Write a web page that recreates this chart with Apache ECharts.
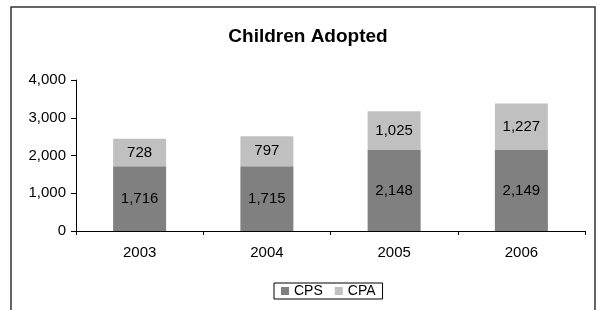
<!DOCTYPE html>
<html>
<head>
<meta charset="utf-8">
<script src="https://cdn.jsdelivr.net/npm/echarts@6/dist/echarts.min.js"></script>
<style>
  html, body { margin: 0; padding: 0; background: #fff; }
  #chart { width: 597px; height: 310px; }
</style>
</head>
<body>
<div id="chart"></div>
<script>
const years = ['2003', '2004', '2005', '2006']
const cps = [1716, 1715, 2148, 2149]
const cpa = [728, 797, 1025, 1227]
const yTicks = [0, 1000, 2000, 3000, 4000]

const font = '"Liberation Sans", Arial, sans-serif'
const chart = echarts.init(document.getElementById('chart'))

const fmt = v => Number(v).toLocaleString('en-US')

const option = {
  animation: false,
  textStyle: { fontFamily: font },
  title: {
    text: 'Children Adopted',
    left: 303,
    top: 22,
    textAlign: 'center',
    textStyle: { fontSize: 19, fontWeight: 'bold', color: '#000', fontFamily: font }
  },
  graphic: [{
    type: 'rect',
    shape: { x: 11, y: 7, width: 584, height: 320 },
    style: { fill: 'none', stroke: '#333', lineWidth: 1.5 },
    silent: true
  }],
  legend: {
    data: ['CPS', 'CPA'],
    left: 274,
    top: 283,
    padding: [1, 7, 1, 7],
    borderColor: '#000',
    borderWidth: 1,
    itemWidth: 8,
    itemHeight: 8,
    itemGap: 12,
    icon: 'rect',
    textStyle: { fontSize: 14, color: '#000', fontFamily: font }
  },
  grid: { left: 76, right: 12, top: 80, bottom: 79 },
  xAxis: {
    type: 'category',
    data: years,
    axisLine: { lineStyle: { color: '#000', width: 1 } },
    axisTick: { show: true, length: 4, lineStyle: { color: '#000' } },
    axisLabel: { color: '#000', fontSize: 15, margin: 14, fontFamily: font }
  },
  yAxis: {
    type: 'value',
    min: yTicks[0],
    max: yTicks[yTicks.length - 1],
    interval: 1000,
    splitLine: { show: false },
    axisLine: { show: true, lineStyle: { color: '#000', width: 1 } },
    axisTick: { show: true, length: 5, lineStyle: { color: '#000' } },
    axisLabel: { color: '#000', fontSize: 15, margin: 10, fontFamily: font, formatter: fmt }
  },
  series: [
    {
      name: 'CPS',
      type: 'bar',
      stack: 'total',
      barWidth: 53,
      data: cps,
      itemStyle: { color: '#808080' },
      label: { show: true, position: 'inside', color: '#000', fontSize: 15, fontFamily: font, formatter: p => fmt(p.value) }
    },
    {
      name: 'CPA',
      type: 'bar',
      stack: 'total',
      barWidth: 53,
      data: cpa,
      itemStyle: { color: '#c0c0c0' },
      label: { show: true, position: 'inside', color: '#000', fontSize: 15, fontFamily: font, formatter: p => fmt(p.value) }
    }
  ]
}

chart.setOption(option)
</script>
</body>
</html>
